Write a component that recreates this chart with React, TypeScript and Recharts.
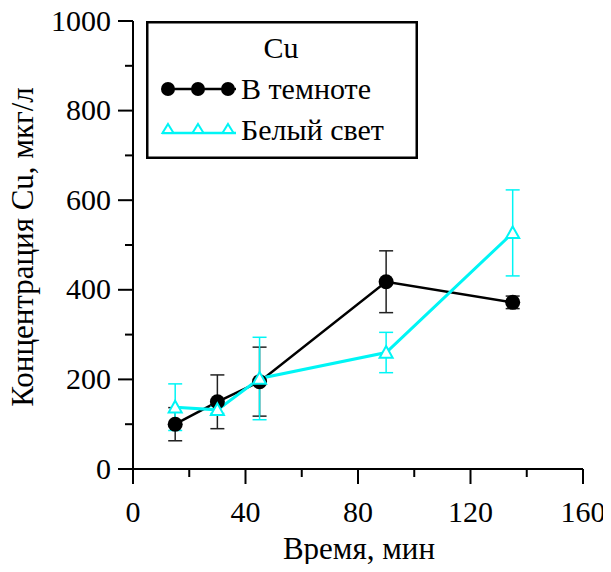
import React from "react"
import { LineChart, Line, XAxis, YAxis, ErrorBar, Legend, Label } from "recharts"

const times = [15, 30, 45, 90, 135]
const darkValues = [100, 150, 195, 418, 372]
const darkErrors = [37, 60, 77, 69, 14]
const lightValues = [138, 132, 202, 260, 527]
const lightErrors = [52, 8, 92, 45, 96]

const xTicks = [0, 20, 40, 60, 80, 100, 120, 140, 160]
const yTicks = [0, 100, 200, 300, 400, 500, 600, 700, 800, 900, 1000]

const CYAN = "#00f5f5"
const SERIF = "Liberation Serif"
const font = (size: number) => ({ fontFamily: SERIF, fontSize: size })

const data = times.map((t, i) => ({
  time: t,
  dark: darkValues[i],
  darkErr: darkErrors[i],
  light: lightValues[i],
  lightErr: lightErrors[i],
}))

const XTick = (props: any) => {
  const { x, y, payload } = props
  const major = payload.value % 40 === 0
  return (
    <g>
      <line x1={x} x2={x} y1={y} y2={y + (major ? 15 : 8)} stroke="#000" strokeWidth={2} />
      {major && (
        <text x={x} y={y + 53} textAnchor="middle" style={font(30)}>
          {payload.value}
        </text>
      )}
    </g>
  )
}

const YTick = (props: any) => {
  const { x, y, payload } = props
  const major = payload.value % 200 === 0
  return (
    <g>
      <line x1={x - (major ? 15 : 8)} x2={x} y1={y} y2={y} stroke="#000" strokeWidth={2} />
      {major && (
        <text x={x - 22} y={y + 9.5} textAnchor="end" style={font(30)}>
          {payload.value}
        </text>
      )}
    </g>
  )
}

const Circle = (props: any) => {
  const { cx, cy, index } = props
  return <circle key={`c-${index}`} cx={cx} cy={cy} r={7.5} fill="#000" />
}

const Triangle = (props: any) => {
  const { cx, cy, index } = props
  const s = 6.5
  return (
    <path
      key={`t-${index}`}
      d={`M${cx},${cy - s} L${cx + s},${cy + s * 0.8} L${cx - s},${cy + s * 0.8} Z`}
      fill="#fff"
      stroke={CYAN}
      strokeWidth={2}
    />
  )
}

const LegendBox = () => (
  <svg width={272} height={138} style={{ display: "block" }}>
    <rect x={1.25} y={1.25} width={269.5} height={135.5} fill="#fff" stroke="#000" strokeWidth={2.5} />
    <text x={135} y={37} textAnchor="middle" style={font(30)}>
      Cu
    </text>
    <line x1={16} x2={90} y1={68} y2={68} stroke="#000" strokeWidth={2.5} />
    {[22, 52, 82].map((cx) => (
      <circle key={cx} cx={cx} cy={68} r={7} fill="#000" />
    ))}
    <text x={95} y={78} style={font(30)}>
      В темноте
    </text>
    <line x1={16} x2={90} y1={112} y2={112} stroke={CYAN} strokeWidth={2.5} />
    {[22, 52, 82].map((cx) => (
      <path
        key={cx}
        d={`M${cx},${103} L${cx + 5.5},${112} L${cx - 5.5},${112} Z`}
        fill="#fff"
        stroke={CYAN}
        strokeWidth={2}
      />
    ))}
    <text x={95} y={119} style={font(30)}>
      Белый свет
    </text>
  </svg>
)

export default function App() {
  return (
    <div style={{ margin: -8 }}>
      <LineChart width={611} height={572} data={data} margin={{ top: 21, right: 28, bottom: 0, left: 0 }}>
        <XAxis
          dataKey="time"
          type="number"
          domain={[0, 160]}
          ticks={xTicks}
          allowDataOverflow
          height={103}
          tickSize={0}
          tickMargin={0}
          tickLine={false}
          axisLine={{ stroke: "#000", strokeWidth: 2 }}
          tick={<XTick />}
          interval={0}
        >
          <Label
            content={() => (
              <text x={359} y={559} textAnchor="middle" style={font(31)}>
                Время, мин
              </text>
            )}
          />
        </XAxis>
        <YAxis
          type="number"
          domain={[0, 1000]}
          ticks={yTicks}
          allowDataOverflow
          width={133}
          tickSize={0}
          tickMargin={0}
          tickLine={false}
          axisLine={{ stroke: "#000", strokeWidth: 2 }}
          tick={<YTick />}
          interval={0}
        >
          <Label
            content={() => (
              <text x={33} y={247} transform="rotate(-90 33 247)" textAnchor="middle" style={font(31)}>
                Концентрация Cu, мкг/л
              </text>
            )}
          />
        </YAxis>
        <Legend
          layout="vertical"
          align="center"
          verticalAlign="middle"
          content={() => <LegendBox />}
          wrapperStyle={{ position: "absolute", left: 146, top: 21, width: 272, height: 138 }}
        />
        <Line
          type="linear"
          dataKey="dark"
          stroke="#000"
          strokeWidth={2.5}
          dot={<Circle />}
          activeDot={false}
          isAnimationActive={false}
        >
          <ErrorBar dataKey="darkErr" direction="y" width={7} stroke="#222" strokeWidth={1.5} isAnimationActive={false} />
        </Line>
        <Line
          type="linear"
          dataKey="light"
          stroke={CYAN}
          strokeWidth={3}
          dot={<Triangle />}
          activeDot={false}
          isAnimationActive={false}
        >
          <ErrorBar dataKey="lightErr" direction="y" width={7} stroke={CYAN} strokeWidth={1.5} isAnimationActive={false} />
        </Line>
      </LineChart>
    </div>
  )
}
